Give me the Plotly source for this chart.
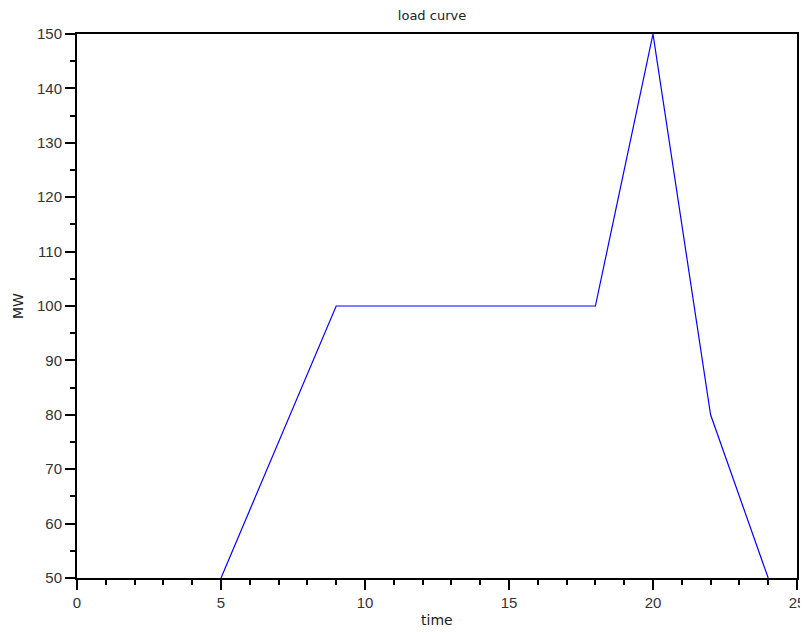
import plotly.graph_objects as go

time = [5, 9, 18, 20, 22, 24]
mw = [50, 100, 100, 150, 80, 50]
x_ticks = [0, 5, 10, 15, 20, 25]
y_ticks = [50, 60, 70, 80, 90, 100, 110, 120, 130, 140, 150]

fig = go.Figure()
fig.add_trace(go.Scatter(x=time, y=mw, mode="lines",
                         line=dict(color="#0000ff", width=1.2),
                         showlegend=False))

axis_common = dict(showgrid=False, zeroline=False, showline=True, linecolor="black",
                   linewidth=2, mirror=True, ticks="outside", ticklen=10, tickwidth=2,
                   tickcolor="black", automargin=False,
                   tickfont=dict(family="Liberation Sans", size=15, color="#333333"))

fig.update_xaxes(range=[0, 25], tickvals=x_ticks, ticktext=[str(v) for v in x_ticks],
                 minor=dict(dtick=1, ticks="outside", ticklen=5, tickwidth=2, tickcolor="black"),
                 **axis_common)
fig.update_yaxes(range=[50, 150], tickvals=y_ticks, ticktext=[str(v) for v in y_ticks],
                 minor=dict(dtick=5, ticks="outside", ticklen=5, tickwidth=2, tickcolor="black"),
                 **axis_common)

fig.add_annotation(text="time", xref="paper", yref="paper", x=0.5, y=0,
                   xanchor="center", yanchor="middle", yshift=-42, showarrow=False,
                   font=dict(family="DejaVu Sans", size=14, color="#222"))
fig.add_annotation(text="MW", xref="paper", yref="paper", x=0, y=0.5,
                   xanchor="center", yanchor="middle", xshift=-59, textangle=-90,
                   showarrow=False,
                   font=dict(family="DejaVu Sans", size=14, color="#222"))

fig.update_layout(
    width=800, height=624,
    margin=dict(l=69, r=11, t=26, b=54),
    plot_bgcolor="white", paper_bgcolor="white",
    title=dict(text="load curve", x=0.53, xanchor="center", y=0.988, yanchor="middle",
               font=dict(family="DejaVu Sans", size=13, color="#222")),
)

fig.write_html("out.html")
